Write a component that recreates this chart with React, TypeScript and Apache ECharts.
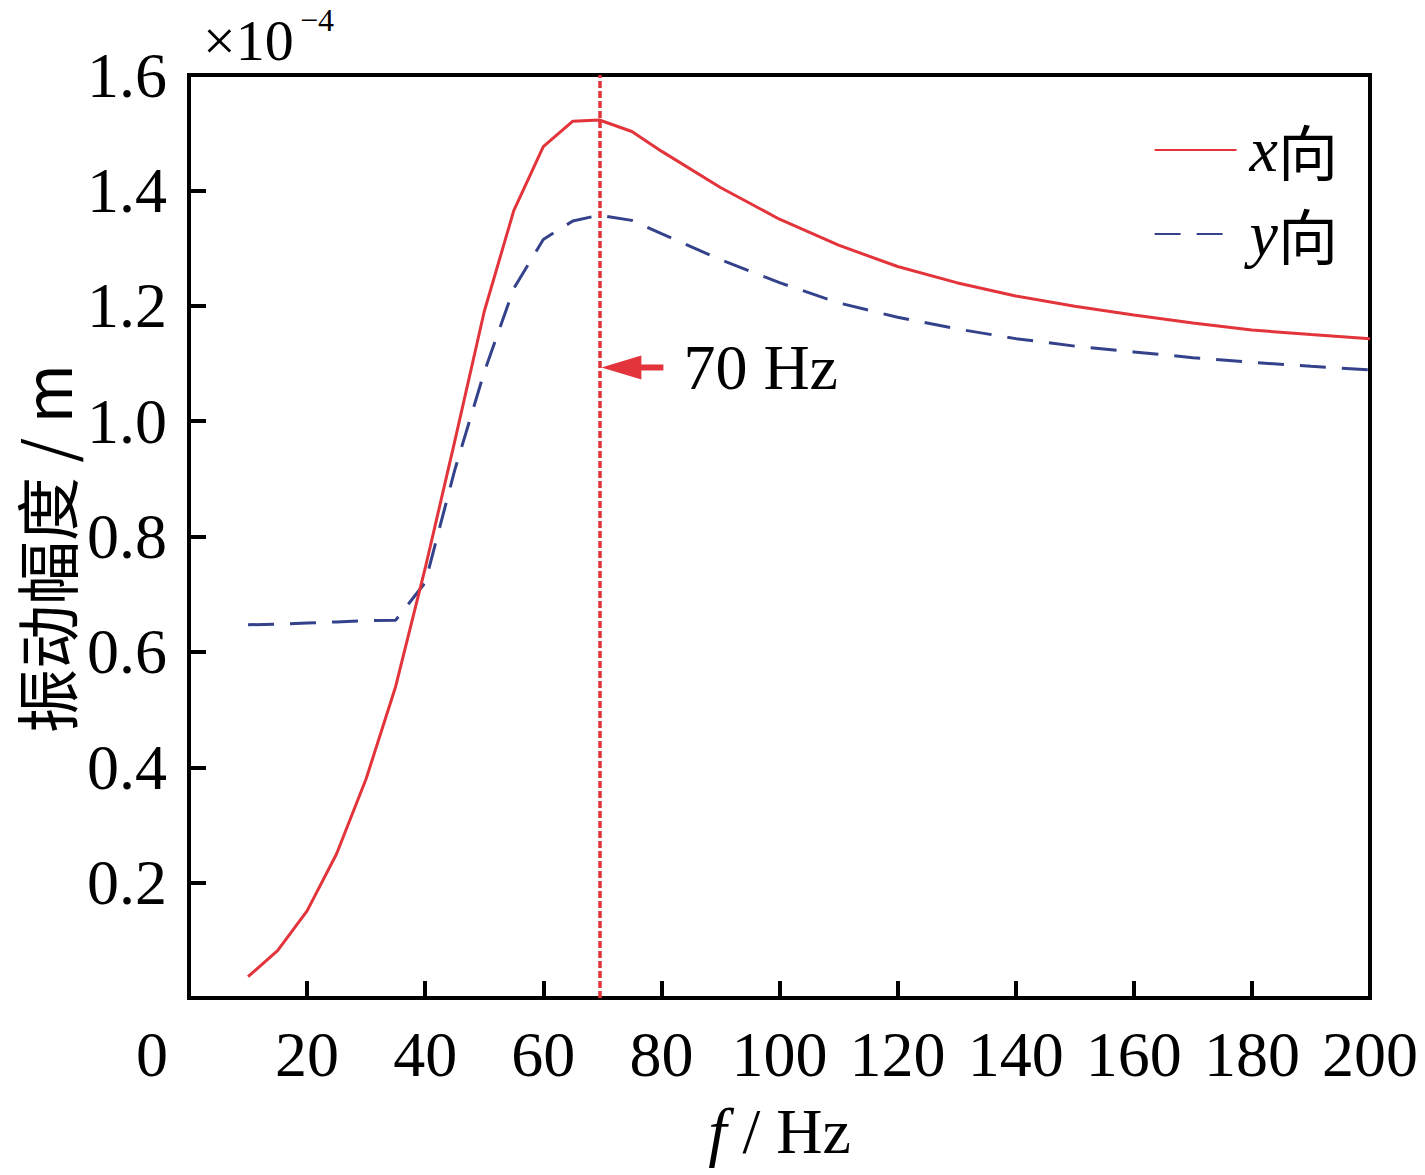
import React, { useEffect, useRef } from "react";
import * as echarts from "echarts";

const freq = [10, 15, 20, 25, 30, 35, 40, 45, 50, 55, 60, 65, 69.5, 75, 80, 90, 100, 110, 120, 130, 140, 150, 160, 170, 180, 190, 200];
const xDir = [0.037, 0.082, 0.151, 0.25, 0.38, 0.54, 0.745, 0.965, 1.19, 1.365, 1.476, 1.52, 1.522, 1.502, 1.468, 1.405, 1.35, 1.305, 1.268, 1.24, 1.217, 1.199, 1.184, 1.17, 1.158, 1.15, 1.143];
const yDir = [0.647, 0.648, 0.65, 0.652, 0.654, 0.655, 0.72, 0.915, 1.085, 1.23, 1.315, 1.347, 1.357, 1.348, 1.325, 1.28, 1.24, 1.205, 1.18, 1.16, 1.143, 1.13, 1.12, 1.11, 1.102, 1.095, 1.089];
const seriesNames = ["x向", "y向"];
const peakFreq = 69.5;
const arrowValue = 1.093;
const peakLabel = "70 Hz";

const SERIF = "'Liberation Serif', 'Times New Roman', 'Noto Sans CJK SC', serif";
const RED = "#e2343a";
const BLUE = "#34428c";

export default function App() {
  const ref = useRef<HTMLDivElement>(null);
  useEffect(() => {
    if (!ref.current) return;
    const chart = echarts.init(ref.current, null, { renderer: "svg" });
    const option: any = {
      animation: false,
      backgroundColor: "#fff",
      grid: {
        left: 189,
        right: 55,
        top: 75,
        bottom: 177,
        show: true,
        borderColor: "#000",
        borderWidth: 4,
        containLabel: false,
      },
      legend: {
        orient: "vertical",
        right: 82,
        top: 113,
        itemWidth: 82,
        itemHeight: 20,
        itemGap: 20,
        data: seriesNames,
        itemStyle: { opacity: 0 },
        formatter: (n: string) => `{i|${n.charAt(0)}}{c|${n.slice(1)}}`,
        textStyle: {
          color: "#000",
          fontSize: 62,
          fontFamily: SERIF,
          padding: [0, 0, 0, 8],
          rich: {
            i: { fontStyle: "italic", fontSize: 64, fontFamily: SERIF, color: "#000" },
            c: { fontSize: 60, fontFamily: "'Noto Sans CJK SC', serif", color: "#000" },
          },
        },
      },
      xAxis: {
        type: "value",
        min: 0,
        max: 200,
        interval: 20,
        name: "{i|f} / Hz",
        nameLocation: "middle",
        nameGap: 100,
        nameTextStyle: {
          color: "#000",
          fontSize: 64,
          fontFamily: SERIF,
          rich: {
            i: { fontStyle: "italic", fontSize: 66, fontFamily: SERIF, color: "#000" },
          },
        },
        axisLine: { show: true, lineStyle: { color: "#000", width: 4 } },
        axisTick: { show: true, inside: true, length: 17, lineStyle: { color: "#000", width: 4 } },
        axisLabel: {
          color: "#000",
          fontSize: 64,
          fontFamily: SERIF,
          margin: 24,
          formatter: (v: number) => (v === 0 ? "{z|0}" : String(v)),
          rich: {
            z: { fontSize: 64, fontFamily: SERIF, color: "#000", padding: [0, 74, 0, 0] },
          },
        },
        splitLine: { show: false },
      },
      yAxis: {
        type: "value",
        min: 0,
        max: 1.6,
        interval: 0.2,
        name: "振动幅度 / m",
        nameLocation: "middle",
        nameGap: 112,
        nameTextStyle: {
          color: "#000",
          fontSize: 64,
          lineHeight: 64,
          fontFamily: "'Noto Sans CJK SC', " + SERIF,
          padding: [0, 24, 0, 0],
        },
        axisLine: { show: true, lineStyle: { color: "#000", width: 4 } },
        axisTick: { show: true, inside: true, length: 17, lineStyle: { color: "#000", width: 4 } },
        axisLabel: {
          color: "#000",
          fontSize: 64,
          fontFamily: SERIF,
          margin: 22,
          formatter: (v: number) => (v === 0 ? "" : v.toFixed(1)),
        },
        splitLine: { show: false },
      },
      series: [
        {
          name: seriesNames[0],
          type: "line",
          symbol: "none",
          data: freq.map((f, i) => [f, xDir[i]]),
          lineStyle: { color: RED, width: 3 },
          itemStyle: { color: RED },
          z: 3,
          markLine: {
            silent: true,
            symbol: ["none", "none"],
            label: { show: false },
            lineStyle: { color: RED, width: 3.5, type: [7, 3] },
            data: [{ xAxis: peakFreq }],
          },
        },
        {
          name: seriesNames[1],
          type: "line",
          symbol: "none",
          data: freq.map((f, i) => [f, yDir[i]]),
          lineStyle: { color: BLUE, width: 3, type: [26, 16] },
          itemStyle: { color: BLUE },
          z: 2,
        },
      ],
    };
    chart.setOption(option);
    const p = chart.convertToPixel({ xAxisIndex: 0, yAxisIndex: 0 }, [peakFreq, arrowValue]) as number[];
    const tipX = p[0] + 2;
    const tipY = p[1];
    chart.setOption({
      graphic: [
        {
          type: "polygon",
          shape: { points: [[tipX, tipY], [tipX + 40, tipY - 12], [tipX + 40, tipY + 12]] },
          style: { fill: RED },
          z: 10,
        },
        {
          type: "line",
          shape: { x1: tipX + 36, y1: tipY, x2: tipX + 62, y2: tipY },
          style: { stroke: RED, lineWidth: 6 },
          z: 10,
        },
        {
          type: "text",
          x: tipX + 82,
          y: tipY,
          style: {
            text: peakLabel,
            fill: "#000",
            fontSize: 64,
            fontFamily: SERIF,
            verticalAlign: "middle",
            align: "left",
          },
          z: 10,
        },
        {
          type: "text",
          x: 203,
          y: 40,
          style: {
            text: "×10",
            fill: "#000",
            fontSize: 58,
            fontFamily: SERIF,
            verticalAlign: "middle",
            align: "left",
          },
        },
        {
          type: "text",
          x: 300,
          y: 20,
          style: {
            text: "−4",
            fill: "#000",
            fontSize: 32,
            fontFamily: SERIF,
            verticalAlign: "middle",
            align: "left",
          },
        },
      ],
    });
    return () => chart.dispose();
  }, []);
  return (
    <div
      ref={ref}
      style={{ position: "absolute", left: 0, top: 0, width: 1425, height: 1175 }}
    />
  );
}
